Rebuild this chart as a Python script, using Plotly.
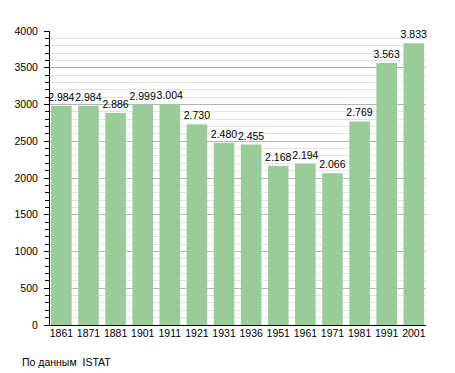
import plotly.graph_objects as go

years = ["1861", "1871", "1881", "1901", "1911", "1921", "1931", "1936",
         "1951", "1961", "1971", "1981", "1991", "2001"]
population = [2984, 2984, 2886, 2999, 3004, 2730, 2480, 2455,
              2168, 2194, 2066, 2769, 3563, 3833]
y_ticks = [0, 500, 1000, 1500, 2000, 2500, 3000, 3500, 4000]
source_note = "По данным  ISTAT"

# page body has an 8px default margin, so the figure is 8px smaller
W, H = 447, 365
L, R, T, B = 42, 29, 23, 48
pw, ph = W - L - R, H - T - B

fig = go.Figure(go.Bar(
    x=years, y=population,
    marker=dict(color="#99cc99", line=dict(width=0)),
    texttemplate="%{y:,d}", textposition="outside",
    textfont=dict(family="Liberation Sans, Arial", size=10.5, color="black"),
    constraintext="none",
    cliponaxis=False,
))

fig.update_layout(
    width=W, height=H,
    margin=dict(l=L, r=R, t=T, b=B, autoexpand=False),
    paper_bgcolor="white", plot_bgcolor="white",
    separators=",.",
    bargap=0.24,
    showlegend=False,
    font=dict(family="Liberation Sans, Arial", size=10.5, color="black"),
    xaxis=dict(
        type="category", range=[-0.42, 13.45],
        showline=True, linecolor="black", linewidth=1,
        ticks="", showgrid=False, tickfont=dict(size=10.5, color="black"),
        ticklabelstandoff=-2,
    ),
    yaxis=dict(
        range=[0, 4000], tickvals=y_ticks, showline=True, linecolor="black",
        linewidth=1, ticks="outside", ticklen=5, tickcolor="black",
        gridcolor="#b4b4b4", gridwidth=1, zeroline=False,
        tickfont=dict(size=10.5, color="black"),
        ticklabelstandoff=4,
        minor=dict(dtick=100, showgrid=True, gridcolor="#e2e2e2", gridwidth=1,
                   ticks="outside", ticklen=4, tickcolor="black"),
    ),
    annotations=[dict(
        text=source_note, xref="paper", yref="paper",
        x=(12 - L) / pw, y=-37 / ph,
        xanchor="left", yanchor="middle", showarrow=False,
        font=dict(size=10.5, color="black"),
    )],
)

fig.write_html("out.html")
